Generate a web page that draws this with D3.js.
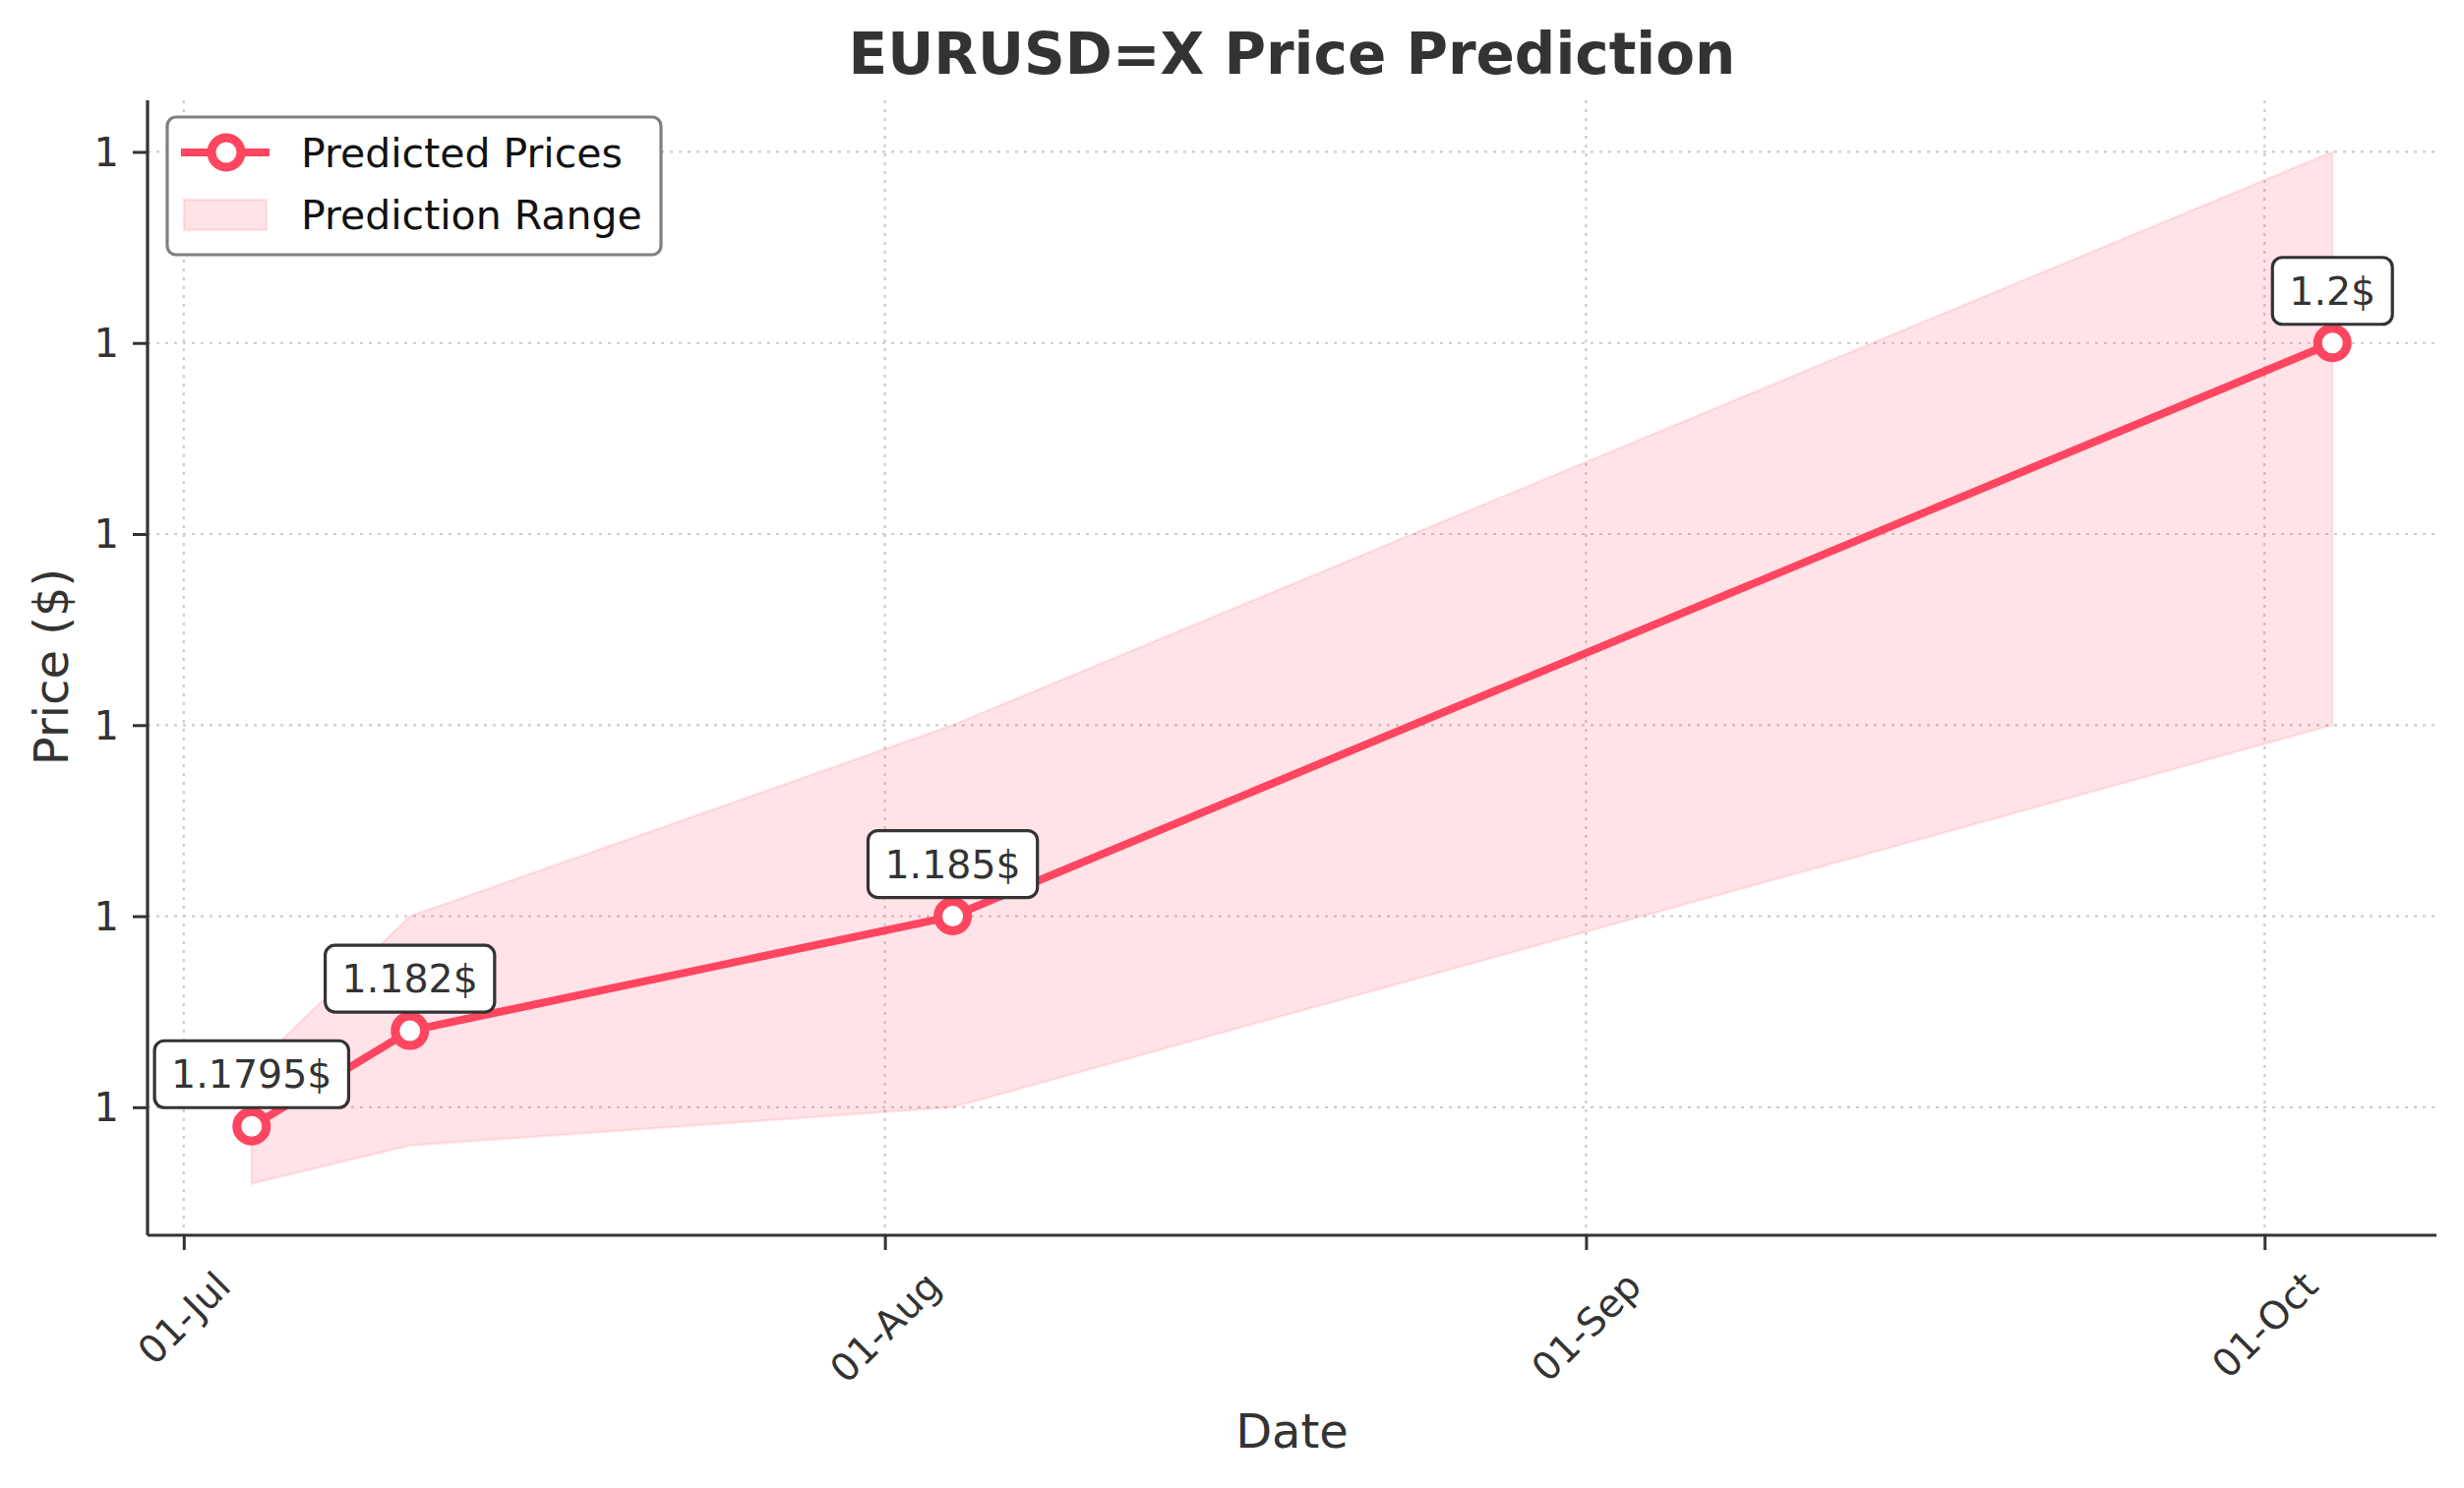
<!DOCTYPE html>
<html>
<head>
<meta charset="utf-8">
<script src="https://cdn.jsdelivr.net/npm/d3@7"></script>
<style>
  html, body { margin: 0; padding: 0; background: #ffffff; }
  svg { display: block; }
  text { font-family: "DejaVu Sans", "Liberation Sans", sans-serif; }
</style>
</head>
<body>
<svg id="chart" width="2505" height="1513"></svg>
<script>
// ---- data ----
const dates = ["2025-07-04", "2025-07-11", "2025-08-04", "2025-10-04"];
const predicted = [1.1795, 1.182, 1.185, 1.2];
const lowerBound = [1.178, 1.179, 1.180, 1.190];
const upperBound = [1.181, 1.185, 1.190, 1.205];
const xTickDates = ["2025-07-01", "2025-08-01", "2025-09-01", "2025-10-01"];
const yTickValues = [1.18, 1.185, 1.19, 1.195, 1.2, 1.205];
const titleText = "EURUSD=X Price Prediction";
const xLabel = "Date";
const yLabel = "Price ($)";
const seriesName = "Predicted Prices";
const rangeName = "Prediction Range";

// ---- style ----
const lineColor = "#FF4560";
const textColor = "#333333";
const fs = 40;

const svg = d3.select("#chart");
const plot = { left: 150, right: 2477, top: 102, bottom: 1256 };

const parse = d3.utcParse("%Y-%m-%d");
const data = dates.map((d, i) => ({
  date: parse(d), value: predicted[i], lo: lowerBound[i], hi: upperBound[i]
}));

// matplotlib-like 5% margins
const xExt = d3.extent(data, d => +d.date);
const xPad = (xExt[1] - xExt[0]) * 0.05;
const x = d3.scaleUtc()
  .domain([new Date(xExt[0] - xPad), new Date(xExt[1] + xPad)])
  .range([plot.left, plot.right]);

const yMin = d3.min(data, d => Math.min(d.lo, d.value));
const yMax = d3.max(data, d => Math.max(d.hi, d.value));
const yPad = (yMax - yMin) * 0.05;
const y = d3.scaleLinear()
  .domain([yMin - yPad, yMax + yPad])
  .range([plot.bottom, plot.top]);

const xTicks = xTickDates.map(parse);

// ---- grid ----
const grid = svg.append("g").attr("class", "grid")
  .attr("stroke", "#cccccc").attr("stroke-width", 2.2)
  .attr("stroke-dasharray", "3,6");
grid.selectAll("line.v").data(xTicks).join("line").attr("class", "v")
  .attr("x1", d => x(d)).attr("x2", d => x(d))
  .attr("y1", plot.top).attr("y2", plot.bottom);
grid.selectAll("line.h").data(yTickValues).join("line").attr("class", "h")
  .attr("x1", plot.left).attr("x2", plot.right)
  .attr("y1", d => y(d)).attr("y2", d => y(d));

// ---- prediction range ----
const area = d3.area()
  .x(d => x(d.date)).y0(d => y(d.lo)).y1(d => y(d.hi));
svg.append("path").datum(data)
  .attr("d", area)
  .attr("fill", lineColor).attr("fill-opacity", 0.15)
  .attr("stroke", lineColor).attr("stroke-opacity", 0.12).attr("stroke-width", 2.5);

// ---- line ----
const line = d3.line().x(d => x(d.date)).y(d => y(d.value));
svg.append("path").datum(data)
  .attr("d", line)
  .attr("fill", "none").attr("stroke", lineColor)
  .attr("stroke-width", 8).attr("stroke-linejoin", "round");

svg.append("g").selectAll("circle").data(data).join("circle")
  .attr("cx", d => x(d.date)).attr("cy", d => y(d.value))
  .attr("r", 15).attr("fill", "#ffffff")
  .attr("stroke", lineColor).attr("stroke-width", 9);

// ---- axes ----
const xAxis = d3.axisBottom(x).tickValues(xTicks).tickSize(15).tickFormat("");
const gx = svg.append("g").attr("transform", `translate(0,${plot.bottom})`).call(xAxis);
const yAxis = d3.axisLeft(y).tickValues(yTickValues).tickSize(15).tickFormat("");
const gy = svg.append("g").attr("transform", `translate(${plot.left},0)`).call(yAxis);
[gx, gy].forEach(g => {
  g.select(".domain").attr("stroke", textColor).attr("stroke-width", 3.2);
  g.selectAll(".tick line").attr("stroke", textColor).attr("stroke-width", 3);
});
gx.select(".domain").attr("d", `M${plot.left},0H${plot.right}`);
gy.select(".domain").attr("d", `M0,${plot.top}V${plot.bottom}`);

// y tick labels
const yFmt = d3.format(".0f");
svg.append("g").selectAll("text").data(yTickValues).join("text")
  .attr("x", 121).attr("y", d => y(d)).attr("dy", "0.36em")
  .attr("text-anchor", "end").attr("font-size", fs).attr("fill", textColor)
  .text(d => yFmt(d));

// x tick labels, rotated 45°, centered under tick
const xFmt = d3.utcFormat("%d-%b");
const xl = svg.append("g").selectAll("text").data(xTicks).join("text")
  .attr("text-anchor", "middle").attr("dy", "0.36em")
  .attr("font-size", 39).attr("fill", textColor)
  .text(d => xFmt(d));
xl.each(function(d) {
  const w = this.getComputedTextLength();
  const h = 0.73 * 39;
  const cy = 1290 + (w + h) / (2 * Math.SQRT2);
  d3.select(this).attr("transform", `translate(${x(d)},${cy}) rotate(-45)`);
});

// ---- annotations ----
const ann = svg.append("g").selectAll("g").data(data).join("g")
  .attr("transform", d => `translate(${x(d.date)},${y(d.value) - 53})`);
ann.each(function(d) {
  const g = d3.select(this);
  const t = g.append("text").attr("text-anchor", "middle").attr("dy", "0.36em")
    .attr("font-size", 39.5).attr("fill", textColor).text(d.value + "$");
  const w = t.node().getComputedTextLength();
  g.insert("rect", "text")
    .attr("x", -w / 2 - 17).attr("y", -34)
    .attr("width", w + 34).attr("height", 68)
    .attr("rx", 10).attr("fill", "#ffffff")
    .attr("stroke", textColor).attr("stroke-width", 3.2);
});

// ---- title & labels ----
svg.append("text").attr("x", (plot.left + plot.right) / 2).attr("y", 75)
  .attr("text-anchor", "middle").attr("font-size", 58).attr("font-weight", "bold")
  .attr("fill", textColor).text(titleText);
svg.append("text").attr("x", (plot.left + plot.right) / 2).attr("y", 1472)
  .attr("text-anchor", "middle").attr("font-size", 48).attr("fill", textColor)
  .text(xLabel);
svg.append("text").attr("transform", `translate(69,678) rotate(-90)`)
  .attr("text-anchor", "middle").attr("font-size", 48).attr("fill", textColor)
  .text(yLabel);

// ---- legend ----
const lg = svg.append("g");
lg.append("rect").attr("x", 170).attr("y", 119).attr("width", 502).attr("height", 140)
  .attr("rx", 9).attr("fill", "#ffffff").attr("fill-opacity", 0.85)
  .attr("stroke", "#808080").attr("stroke-width", 3.2);
lg.append("line").attr("x1", 184).attr("x2", 274).attr("y1", 155).attr("y2", 155)
  .attr("stroke", lineColor).attr("stroke-width", 8);
lg.append("circle").attr("cx", 230).attr("cy", 155).attr("r", 15)
  .attr("fill", "#ffffff").attr("stroke", lineColor).attr("stroke-width", 9);
lg.append("rect").attr("x", 187).attr("y", 203).attr("width", 84).attr("height", 31)
  .attr("fill", lineColor).attr("fill-opacity", 0.15)
  .attr("stroke", lineColor).attr("stroke-opacity", 0.12).attr("stroke-width", 2.5);
lg.append("text").attr("x", 306).attr("y", 155).attr("dy", "0.36em")
  .attr("font-size", 41).attr("fill", "#111111").text(seriesName);
lg.append("text").attr("x", 306).attr("y", 218).attr("dy", "0.36em")
  .attr("font-size", 41).attr("fill", "#111111").text(rangeName);
</script>
</body>
</html>
